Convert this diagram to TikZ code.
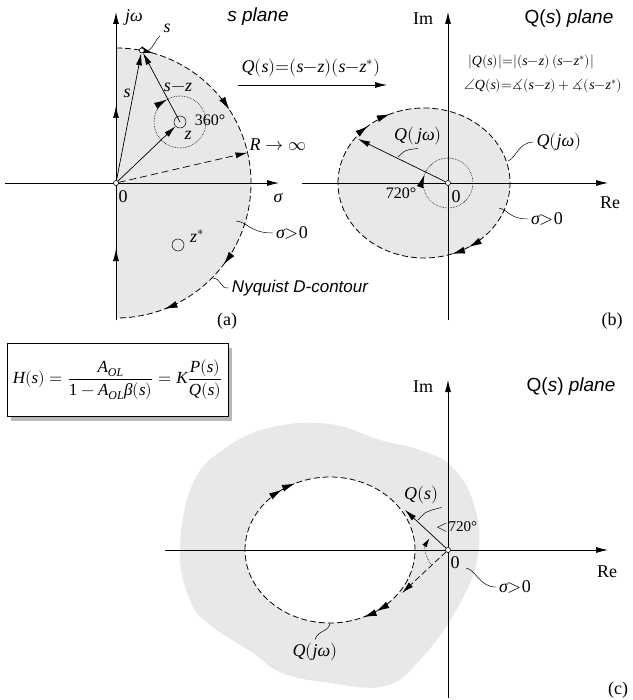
\documentclass[tikz,border=0pt]{standalone}
\usepackage{amsmath}
\usepackage{unicode-math}
\setmainfont{Liberation Serif}
\setmathfont{Latin Modern Math}
\setmathfont{Liberation Serif Italic}[range={it->up}]
\setmathfont{Liberation Serif}[range={up/{num}}]
\newfontfamily\labelsans{Liberation Sans}
\usetikzlibrary{arrows.meta,calc,decorations.markings}

\begin{document}
\begin{tikzpicture}[x=1pt, y=-1pt, font=\fontsize{18}{21}\selectfont,
  ax/.style={-{Latex[length=12pt,width=6pt]}, line width=0.7pt},
  vec/.style={-{Latex[length=12pt,width=6pt]}, line width=0.7pt},
  dcont/.style={dash pattern=on 6pt off 3pt, line width=0.8pt},
  pt/.style={circle, draw, fill=white, inner sep=0pt, minimum size=5pt, line width=0.6pt},
  zero/.style={circle, draw, inner sep=0pt, minimum size=12pt, line width=0.5pt},
  lead/.style={line width=0.5pt},
  dotc/.style={densely dotted, line width=0.6pt},
  shade/.style={fill=gray!18},
  arrowat/.style={postaction={decorate, decoration={markings,
      mark=at position #1 with {\arrow[line width=0.8pt]{Latex[length=13pt,width=7pt]}}}}},
  sans/.style={font=\fontsize{19}{22}\selectfont\labelsans\itshape}]
\useasboundingbox (0,0) rectangle (632,700);

% (a) s plane
\coordinate (Oa) at (116,183);
\fill[shade] (Oa) ++(0,-135) arc[start angle=-90, end angle=90, radius=135] -- cycle;
\draw[dcont, arrowat=0.089, arrowat=0.317, arrowat=0.706, arrowat=0.883]
  (Oa) ++(0,-135) arc[start angle=-90, end angle=90, radius=135];
\draw[ax] (5,183) -- (279,183);
\draw[ax, line width=0.9pt] (116,320) -- (116,12);
\draw[vec] (116,124) -- (116,106);
\draw[vec] (116,267) -- (116,249);
\node[pt] (orgA) at (Oa) {};
\node[pt] (sp) at ($(Oa)+(-79:135)$) {};
\node[zero] (zA) at (180,122) {};
\node[zero] (zsA) at (178,245) {};
\draw[dotc, arrowat=0.667] (zA.center) circle[radius=26];
\draw[vec] (orgA) -- (sp);
\draw[vec] (zA.center) -- (sp);
\draw[vec] (orgA) -- (zA);
\coordinate (Rend) at ($(Oa)+(-13:135)$);
\draw[vec, dash pattern=on 7pt off 4pt] (orgA) -- (Rend);
\node (jwA) at (134,17) {$j\omega$};
\node[sans] (splane) at (258,17) {s plane};
\node (sLab) at (167,28) {$s$};
\draw[lead] (sp.east) .. controls +(8,2) and +(-6,5) .. (sLab.south west);
\node (sVecLab) at (127,93) {$s$};
\node (szLab) at (178,87) {$s{-}z$};
\node[font=\fontsize{16}{18}\selectfont] (deg360) at (210,120) {360°};
\node (zLab) at (188,135) {$z$};
\node (Rlab) at (278,145) {$R\rightarrow\infty$};
\node (zeroA) at (123,197) {0};
\node (sigA) at (278,198) {$\sigma$};
\node (sigposA) at (292,233) {$\sigma{>}0$};
\draw[lead] (236,221) .. controls (248,222) and (250,233) .. (sigposA.west);
\node (zsLab) at (197,236) {$z^{*}$};
\node[sans, font=\fontsize{17}{20}\selectfont\labelsans\itshape] (nyq) at (300,288) {Nyquist D-contour};
\draw[lead] (213,278) .. controls (222,279) and (220,289) .. (nyq.west);
\node (labA) at (227,321) {(a)};
\node (mapLab) at (311,68) {$Q(s){=}(s{-}z)(s{-}z^{*})$};
\coordinate (mapL) at (238,85);
\coordinate (mapR) at (387,85);
\draw[vec] (mapL) -- (mapR);

% (b) Q(s) plane, two zeros inside
\coordinate (Ob) at (448,183);
\fill[shade] (424,183) ellipse[x radius=86, y radius=75];
\draw[dcont, arrowat=0.132, arrowat=0.181, arrowat=0.658, arrowat=0.694]
  (338,183) arc[start angle=-180, end angle=180, x radius=86, y radius=75];
\draw[ax] (302,183) -- (608,183);
\draw[ax] (448,320) -- (448,12);
\node[pt] (orgB) at (Ob) {};
\draw[dotc, arrowat=0.553] (Ob) circle[radius=25];
\coordinate (qjwTip) at (358,139);
\draw[vec] (orgB) -- (qjwTip);
\node (qjwLabB) at (418,136) {$Q(\,j\omega)$};
\draw[lead] (398,157) .. controls (404,152) and (402,150) .. (qjwLabB.south);
\node (imB) at (423,19) {Im};
\node[sans] (qplaneB) at (569,19) {\upshape Q(\itshape s\upshape) \itshape plane};
\node[font=\fontsize{14}{16}\selectfont] (magB) at (531,62)
  {$|Q(s)|{=}|(s{-}z)\,(s{-}z^{*})|$};
\node[font=\fontsize{14}{16}\selectfont] (argB) at (543,86)
  {$\angle Q(s){=}\measuredangle(s{-}z)+\measuredangle(s{-}z^{*})$};
\node (qjwR) at (559,142) {$Q(j\omega)$};
\draw[lead] (508,161) .. controls (516,158) and (518,143) .. (qjwR.west);
\node (sigposB) at (547,219) {$\sigma{>}0$};
\draw[lead] (499,208) .. controls (508,210) and (510,219) .. (sigposB.west);
\node (zeroB) at (456,197) {0};
\node[font=\fontsize{16}{18}\selectfont] (deg720) at (401,193) {720°};
\node (reB) at (610,203) {Re};
\node (labB) at (612,321) {(b)};

% closed-loop transfer function
\fill[gray!55] (11,348) rectangle (232,421);
\node[draw, fill=white, line width=0.6pt, minimum width=221pt, minimum height=73pt,
  inner sep=0pt, font=\fontsize{17}{20}\selectfont] (hbox) at (117.5,379.5)
  {$H(s)=\dfrac{A_{OL}}{1-A_{OL}\beta(s)}=K\dfrac{P(s)}{Q(s)}$};

% (c) Q(s) plane, origin not encircled
\coordinate (Oc) at (448,550);
\fill[shade] plot[smooth cycle, tension=0.7] coordinates {
  (227,447) (273,427) (330,424) (380,440) (420,450) (452,467) (474,505)
  (478,555) (458,607) (420,660) (385,686) (330,683) (282,673) (253,653)
  (210,625) (190,600) (180,550) (193,483)};
\draw[dcont, fill=white, arrowat=0.149, arrowat=0.178, arrowat=0.653, arrowat=0.681]
  (245,550) arc[start angle=-180, end angle=180, x radius=85, y radius=73];
\draw[ax] (165,550) -- (608,550);
\draw[ax] (448,698) -- (448,380);
\node[pt] (orgC) at (Oc) {};
\coordinate (qsTip) at (405,510);
\draw[vec] (orgC) -- (qsTip);
\coordinate (cdEnd) at (402,593);
\draw[vec, dash pattern=on 6pt off 3pt] (orgC) -- (cdEnd);
\draw[dotc, -{Latex[length=9pt,width=5pt]}] (Oc) ++(137:22) arc[start angle=137, end angle=212, radius=22];
\node (qsLab) at (421,495) {$Q(s)$};
\draw[lead] (418,520) .. controls (424,514) and (422,512) .. (qsLab.south east);
\node[font=\fontsize{15}{17}\selectfont] (lt720) at (457,527) {$<$720°};
\node (zeroC) at (455,563) {0};
\node (reC) at (607,572) {Re};
\node (sigposC) at (515,587) {$\sigma{>}0$};
\draw[lead] (466,568) .. controls (476,570) and (480,587) .. (sigposC.west);
\node (qjwC) at (315,652) {$Q(j\omega)$};
\draw[lead] (330,623) .. controls (329,632) and (318,630) .. (qjwC.north);
\node (imC) at (423,387) {Im};
\node[sans] (qplaneC) at (571,387) {\upshape Q(\itshape s\upshape) \itshape plane};
\node (labC) at (618,690) {(c)};
\end{tikzpicture}
\end{document}
